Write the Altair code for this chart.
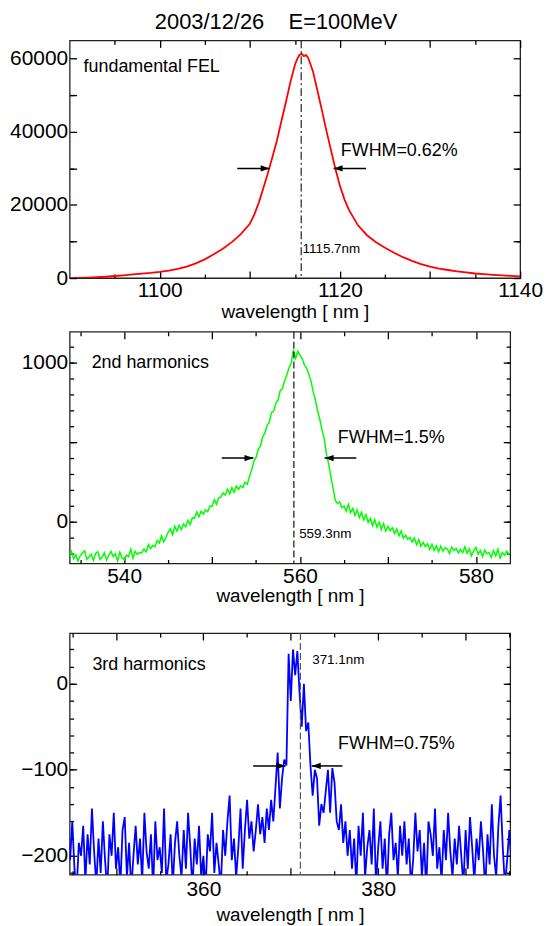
import altair as alt
import pandas as pd

FONT = "Liberation Sans"
TITLE = "2003/12/26\u00a0\u00a0\u00a0\u00a0E=100MeV"
XTITLE = "wavelength [ nm ]"

# ---------------- panel 1 : fundamental FEL ----------------
X1 = [1090, 1091, 1092, 1093, 1094, 1095, 1096, 1097, 1098, 1099, 1100, 1101, 1102,
      1103, 1104, 1105, 1106, 1107, 1108, 1109, 1110, 1110.5, 1111, 1111.5, 1112,
      1112.5, 1113, 1113.5, 1114, 1114.5, 1115, 1115.25, 1115.5, 1115.75, 1116,
      1116.25, 1116.5, 1117, 1117.5, 1118, 1118.5, 1119, 1119.5, 1120, 1120.5, 1121,
      1122, 1123, 1124, 1125, 1126, 1127, 1128, 1129, 1130, 1131, 1132, 1133, 1134,
      1135, 1136, 1137, 1138, 1139, 1140]
Y1 = [0, 60, 120, 220, 360, 560, 750, 980, 1200, 1420, 1700, 2050, 2500,
      3150, 4000, 5100, 6500, 8000, 9800, 12000, 14800, 17400, 20600, 24600, 28600,
      33000, 37500, 42800, 48000, 53500, 58200, 59800, 60900, 61200, 60600,
      60900, 60000, 56500, 51200, 45800, 40200, 35000, 29800, 25200, 21500, 18600,
      14400, 11700, 9800, 8300, 6900, 5700, 4700, 3800, 3100, 2600, 2200, 1850, 1550,
      1250, 1050, 880, 720, 600, 480]

# ---------------- panel 2 : 2nd harmonics (0.25 nm steps from 533 nm) ----------------
Y2 = [-205, -190, -228, -212,
      -185, -232, -208, -246,
      -214, -196, -182, -236,
      -221, -204, -243, -199,
      -188, -236, -222, -195,
      -241, -209, -186, -219,
      -203, -247, -191, -226,
      -238, -211, -219, -172,
      -229, -186, -205, -193,
      -196, -171, -189, -142,
      -168, -149, -158, -118,
      -134, -88, -126, -97,
      -66, -45, -82, -28,
      -58, -22, -49, -14,
      -31, 9, -18, 24,
      22, 61, 31, 66,
      48, 74, 63, 99,
      96, 139, 110, 151,
      156, 181, 168, 205,
      176, 214, 186, 224,
      204, 226, 215, 248,
      236, 284, 326, 382,
      404, 456, 476, 536,
      556, 606, 624, 686,
      694, 746, 764, 826,
      836, 886, 924, 968,
      996, 1082, 1026, 1072,
      1046, 1024, 986, 964,
      926, 884, 816, 764,
      696, 644, 576, 524,
      426, 364, 286, 214,
      136, 114, 126, 89,
      98, 66, 108, 57,
      84, 41, 74, 26,
      58, 12, 44, -4,
      21, -24, 14, -34,
      -2, -49, -11, -58,
      -29, -56, -38, -74,
      -46, -89, -57, -104,
      -84, -111, -99, -126,
      -101, -144, -112, -154,
      -129, -156, -138, -174,
      -141, -179, -151, -188,
      -154, -186, -163, -171,
      -199, -158, -181, -168,
      -196, -173, -194, -157,
      -198, -171, -214, -183,
      -161, -204, -181, -218,
      -178, -201, -194, -224,
      -181, -214, -172, -228,
      -193, -211, -184, -202,
      -198, -212, -187, -208]
X2 = [533.0 + 0.25 * i for i in range(len(Y2))]

# ---------------- panel 3 : 3rd harmonics (0.25 nm steps from 344 nm) ----------------
Y3 = [-190, -225, -170, -205,
      -160, -215, -240, -185,
      -200, -165, -230, -175,
      -210, -145, -195, -235,
      -180, -220, -160, -205,
      -240, -175, -200, -150,
      -215, -190, -235, -170,
      -155, -225, -185, -240,
      -200, -165, -210, -180,
      -230, -150, -195, -215,
      -175, -240, -160, -205,
      -190, -220, -145, -230,
      -210, -175, -235, -185,
      -160, -200, -225, -170,
      -215, -150, -190, -240,
      -180, -210, -165, -225,
      -200, -240, -175, -195,
      -150, -220, -185, -210,
      -235, -170, -200, -160,
      -130, -205, -180, -225,
      -190, -145, -215, -170,
      -135, -180, -160, -195,
      -170, -140, -175, -155,
      -185, -145, -170, -135,
      -160, -120, -80, -145,
      -110, -88, -95, 35,
      -20, 40, 10, 38,
      -10, -50, 0, -55,
      -45, -95, -130, -100,
      -110, -165, -140, -150,
      -125, -100, -150, -98,
      -115, -160, -170, -140,
      -185, -160, -200, -170,
      -215, -180, -235, -165,
      -200, -150, -225, -190,
      -170, -210, -145, -235,
      -190, -160, -215, -180,
      -240, -175, -150, -205,
      -185, -225, -165, -200,
      -160, -210, -180, -235,
      -205, -150, -195, -170,
      -225, -185, -240, -160,
      -175, -200, -145, -215,
      -190, -230, -170, -205,
      -150, -195, -225, -180,
      -210, -165, -200, -235,
      -170, -215, -155, -190,
      -230, -180, -205, -160,
      -195, -240, -175, -210,
      -140, -200, -225, -165,
      -130, -190, -235, -205,
      -170, -210, -190, -230]
X3 = [344.0 + 0.25 * i for i in range(len(Y3))]

# ---------------- annotations ----------------
P1_TEXT = ["fundamental FEL", "FWHM=0.62%", "1115.7nm"]
P1_TX = [1091.55, 1120.1, 1115.85]
P1_TY = [57740, 34660, 7960]
P1_TS = [18, 18, 13.5]
P1_PEAK = 1115.7
P1_AR_FROM = [1108.6, 1122.9]
P1_AR_TO = [1112.2, 1119.3]
P1_AR_Y = [29950, 29950]

P2_TEXT = ["2nd harmonics", "FWHM=1.5%", "559.3nm"]
P2_TX = [536.3, 564.3, 559.9]
P2_TY = [998, 525, -79]
P2_TS = [18, 18, 13.5]
P2_PEAK = 559.3
P2_AR_FROM = [551.1, 566.4]
P2_AR_TO = [554.7, 562.8]
P2_AR_Y = [400, 400]

P3_TEXT = ["3rd harmonics", "FWHM=0.75%", "371.1nm"]
P3_TX = [347.3, 375.4, 372.45]
P3_TY = [21.6, -70, 27.3]
P3_TS = [18, 18, 13.5]
P3_PEAK = 371.1
P3_AR_FROM = [365.7, 375.9]
P3_AR_TO = [369.4, 372.4]
P3_AR_Y = [-95.5, -95.5]

HEAD_R = "M0,0 L-1,-0.35 L-1,0.35 Z"
HEAD_L = "M0,0 L1,-0.35 L1,0.35 Z"

MAJ, MINR = 7, 4


def tick_axis(orient, values, size, labels=False, title=None, mod=None,
              title_pad=0, label_pad=2, ghost_title=False):
    kw = dict(orient=orient, values=values, tickSize=size, offset=-size,
              domain=False, grid=False, labels=labels, ticks=True,
              tickColor="black", tickWidth=1.3, title=title,
              minExtent=0)
    if labels:
        kw.update(labelFont=FONT, labelFontSize=21, labelColor="black",
                  labelPadding=label_pad, labelFlush=False, labelOverlap=False,
                  format="d",
                  labelExpr=f"datum.value % {mod} == 0 ? datum.label : ''")
    if title is not None:
        kw.update(titleFont=FONT, titleFontSize=19, titleFontWeight="normal",
                  titleColor="black", titlePadding=title_pad)
    if ghost_title:
        kw.update(titleFontSize=18, titleOpacity=0, titlePadding=0,
                  titleFont=FONT)
    return alt.Axis(**kw)


def panel(xs_, ys_, color, lw, xdom, ydom, xmaj, xmin, ymaj, ymin, xmod, ymod,
          w, h, peak, dash, dash_color, texts, tx, ty, ts, arf, art, ary,
          title_pad, xlabel_pad=2, ghost=False):
    df = pd.DataFrame({"x": xs_, "y": ys_})
    xs = alt.Scale(domain=xdom, nice=False, zero=False)
    ys = alt.Scale(domain=ydom, nice=False, zero=False)
    base = alt.Chart(df)
    main = base.mark_line(color=color, strokeWidth=lw, clip=True).encode(
        x=alt.X("x:Q", scale=xs,
                axis=tick_axis("bottom", xmaj, MAJ, labels=True, title=XTITLE,
                               mod=xmod, title_pad=title_pad,
                               label_pad=xlabel_pad)),
        y=alt.Y("y:Q", scale=ys,
                axis=tick_axis("left", ymaj, MAJ, labels=True, mod=ymod)),
    )
    l2 = base.mark_line(strokeOpacity=0, clip=True).encode(
        x=alt.X("x:Q", scale=xs, axis=tick_axis("bottom", xmin, MINR)),
        y=alt.Y("y:Q", scale=ys, axis=tick_axis("left", ymin, MINR)),
    )
    if ghost:
        top_major = tick_axis("top", xmaj, MAJ, title="wavelength", ghost_title=True)
    else:
        top_major = tick_axis("top", xmaj, MAJ)
    l3 = base.mark_line(strokeOpacity=0, clip=True).encode(
        x=alt.X("x:Q", scale=xs, axis=top_major),
        y=alt.Y("y:Q", scale=ys, axis=tick_axis("right", ymaj, MAJ)),
    )
    l4 = base.mark_line(strokeOpacity=0, clip=True).encode(
        x=alt.X("x:Q", scale=xs, axis=tick_axis("top", xmin, MINR)),
        y=alt.Y("y:Q", scale=ys, axis=tick_axis("right", ymin, MINR)),
    )
    rule = alt.Chart(pd.DataFrame({"x": [peak]})).mark_rule(
        color=dash_color, strokeWidth=1.2, strokeDash=dash).encode(
        x=alt.X("x:Q", scale=xs, axis=None))
    tdf = pd.DataFrame({"x": tx, "y": ty, "t": texts, "s": ts})
    txt = alt.Chart(tdf).mark_text(align="left", baseline="middle", font=FONT,
                                   color="black").encode(
        x=alt.X("x:Q", scale=xs, axis=None),
        y=alt.Y("y:Q", scale=ys, axis=None),
        text="t:N",
        size=alt.Size("s:Q", scale=None, legend=None),
    )
    adf = pd.DataFrame({"x": arf, "x2": art, "y": ary, "shape": [HEAD_R, HEAD_L]})
    arl = alt.Chart(adf).mark_rule(color="black", strokeWidth=1.5).encode(
        x=alt.X("x:Q", scale=xs, axis=None), x2="x2:Q",
        y=alt.Y("y:Q", scale=ys, axis=None))
    arh = alt.Chart(adf).mark_point(filled=True, color="black", opacity=1,
                                    size=324, strokeWidth=0).encode(
        x=alt.X("x2:Q", scale=xs, axis=None),
        y=alt.Y("y:Q", scale=ys, axis=None),
        shape=alt.Shape("shape:N", scale=None, legend=None))
    return alt.layer(main, l2, l3, l4, rule, arl, arh, txt).resolve_axis(
        x="independent", y="independent").properties(width=w, height=h)


p1 = panel(X1, Y1, "#ff0000", 1.8, [1090, 1140], [0, 64900],
           [1100, 1110, 1120, 1130, 1140], [1095, 1105, 1115, 1125, 1135],
           [0, 10000, 20000, 30000, 40000, 50000, 60000], [10000, 30000, 50000],
           20, 20000, 453, 239, P1_PEAK, [8, 3, 2, 3], "#222222",
           P1_TEXT, P1_TX, P1_TY, P1_TS, P1_AR_FROM, P1_AR_TO, P1_AR_Y, 2)

p2 = panel(X2, Y2, "#00ff00", 1.5, [533.8, 583.9], [-262, 1194],
           [540, 550, 560, 570, 580], [535, 545, 555, 565, 575],
           [0, 500, 1000], list(range(-200, 1200, 100)),
           20, 1000, 443, 233, P2_PEAK, [7, 3], "#111111",
           P2_TEXT, P2_TX, P2_TY, P2_TS, P2_AR_FROM, P2_AR_TO, P2_AR_Y, 0)

p3 = panel(X3, Y3, "#0000ff", 1.8, [344.7, 395.1], [-222, 59],
           [350, 360, 370, 380, 390], [345, 355, 365, 375, 385, 395],
           [-200, -100, 0], list(range(-220, 60, 20)),
           20, 100, 443, 243, P3_PEAK, [7, 3], "#555555",
           P3_TEXT, P3_TX, P3_TY, P3_TS, P3_AR_FROM, P3_AR_TO, P3_AR_Y, 6,
           xlabel_pad=4, ghost=True)

chart = alt.vconcat(p1, p2, p3, spacing=7).properties(
    title=alt.TitleParams(TITLE, fontSize=22, font=FONT, fontWeight="normal",
                          anchor="middle", offset=5, color="black"),
    background="white",
    padding=0,
).configure_view(stroke="#222222", strokeWidth=1.3)

chart.save("out.html", embed_options={"renderer": "svg", "actions": False})
